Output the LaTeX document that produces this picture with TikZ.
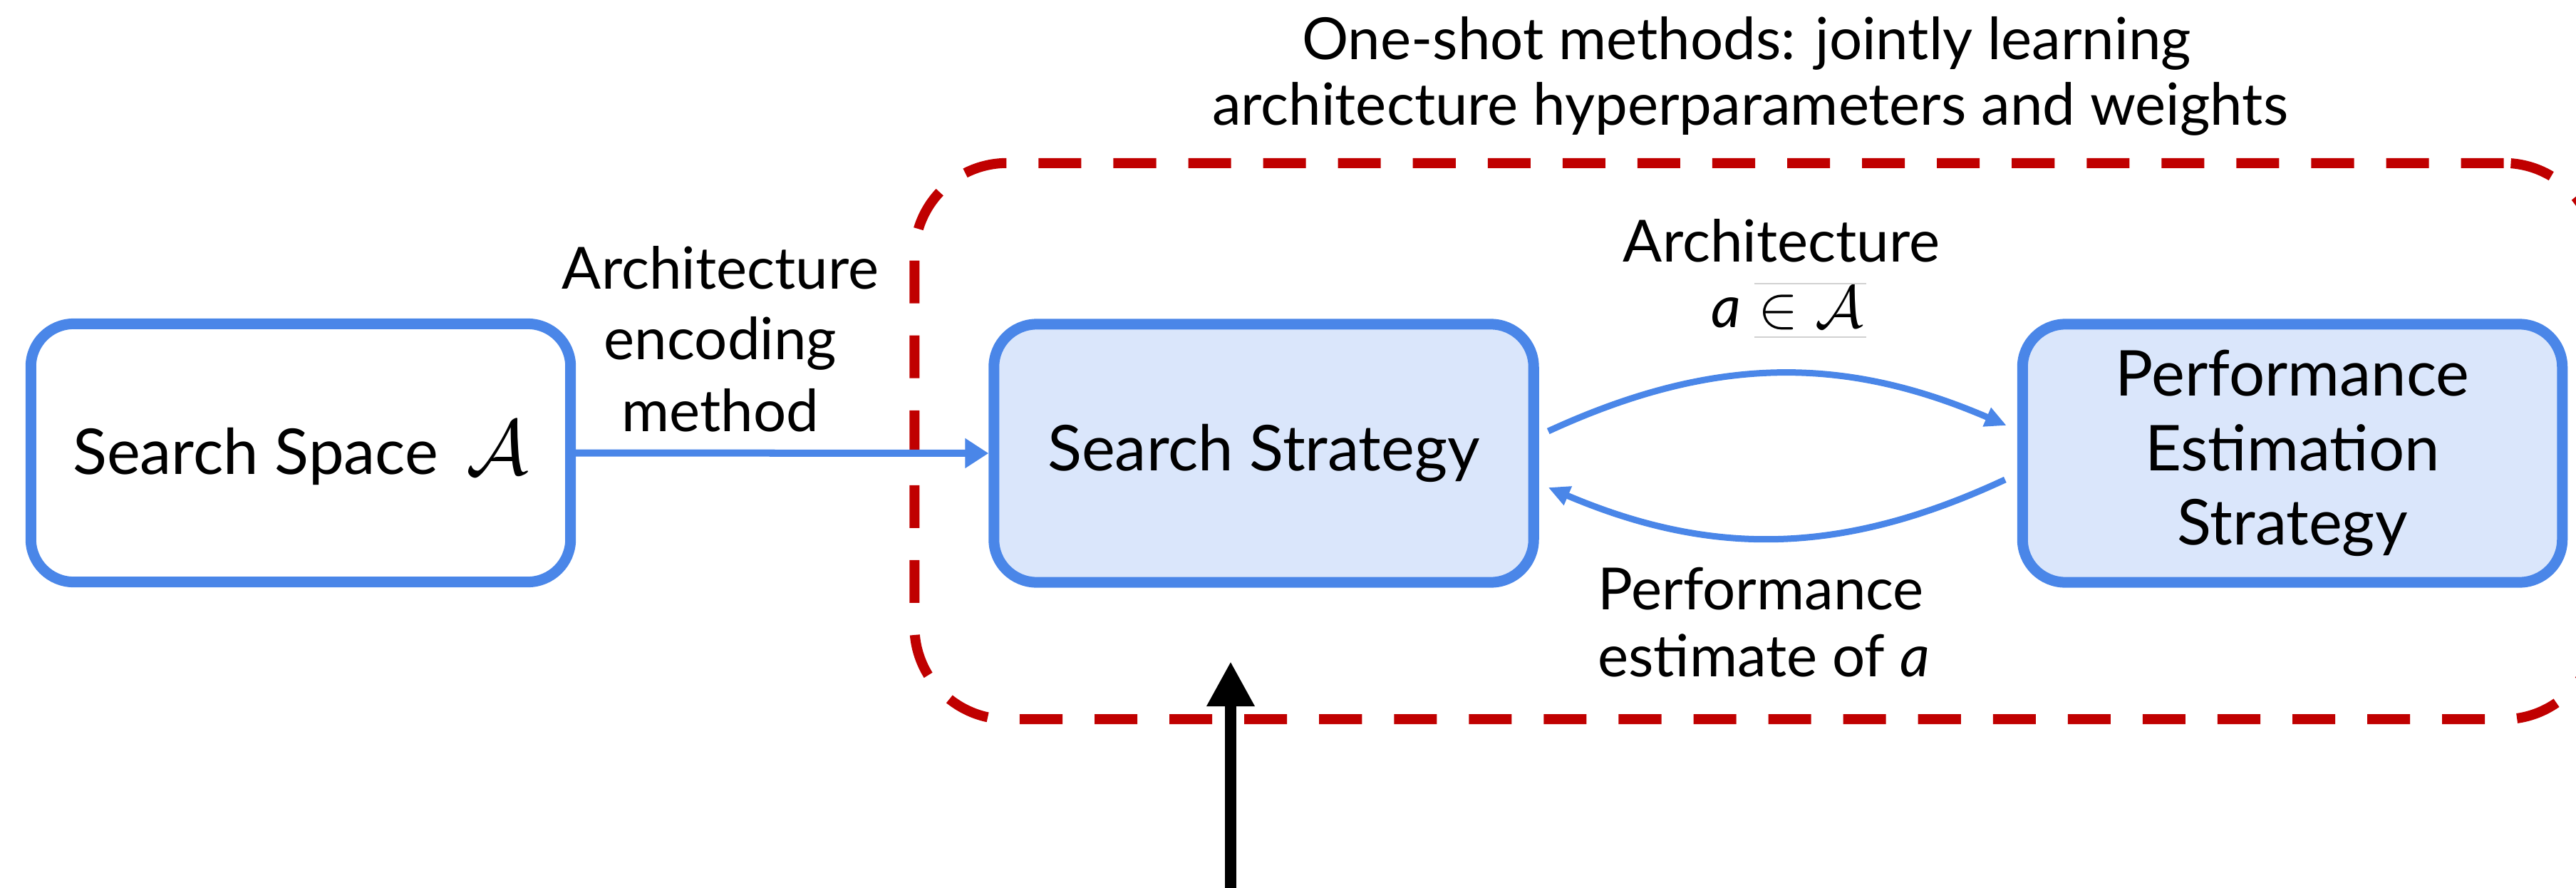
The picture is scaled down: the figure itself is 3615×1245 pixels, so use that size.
\RequirePackage{fix-cm}
\documentclass[tikz,border=0pt]{standalone}
\usepackage{fontspec}
\setmainfont{Lato}
\usetikzlibrary{arrows.meta,calc}
\definecolor{nasblue}{HTML}{4A86E8}
\definecolor{nasfill}{HTML}{DAE6FB}
\definecolor{nasred}{HTML}{C00000}
\begin{document}
\begin{tikzpicture}[x=0.01cm,y=-0.01cm,
  box/.style={draw=nasblue, line width=0.15cm, rounded corners=0.6cm,
    minimum width=7.57cm, minimum height=3.62cm, align=center, inner sep=0pt,
    font=\fontsize{25.2pt}{29.8pt}\selectfont},
  lbl/.style={anchor=base, inner sep=0pt, font=\fontsize{23.2pt}{27pt}\selectfont},
  conn/.style={draw=nasblue, line width=0.1cm, -{Triangle[length=0.33cm,width=0.4cm]}},
  conncurve/.style={draw=nasblue, line width=0.09cm, -{Triangle[length=0.3cm,width=0.27cm]}},
  frame/.style={draw=nasred, line width=0.14cm, dash pattern=on 0.6cm off 0.45cm,
    rounded corners=1.3cm, inner sep=0pt}
]
\useasboundingbox (0,0) rectangle (3615,1245);

% one-shot frame
\node[frame, minimum width=23.59cm, minimum height=7.8cm] (oneshot) at (2463.5,619) {};

% boxes
\node[box] (space) at (422,635.5) {Search Space\hspace{0.45em}{\fontsize{31pt}{31pt}\selectfont$\mathcal{A}$}};
\node[box, fill=nasfill] (strat) at (1773.5,636) {Search Strategy};
\node[box, fill=nasfill] (perf) at (3217,636) {Performance\\Estimation\\Strategy};

% labels
\node[lbl] (t1) at (2451,83) {One-shot methods: jointly learning};
\node[lbl] (t2) at (2456,175) {architecture hyperparameters and weights};
\node[lbl] (e1) at (1011,405) {Architecture};
\node[lbl] (e2) at (1011,504) {encoding};
\node[lbl] (e3) at (1011,605) {method};
\node[lbl] (a1) at (2500,367) {Architecture};
\node[lbl] (a2) at (2508,459) {\textit{a}\hspace{0.3em}{\fontsize{24pt}{24pt}\selectfont$\in\mathcal{A}$}};
\node[lbl] (p1) at (2471,855) {Performance};
\node[lbl] (p2) at (2475,949) {estimate of \textit{a}};
\draw[black!18, line width=0.015cm] (2462,398) -- (2619,398);
\draw[black!18, line width=0.015cm] (2462,473) -- (2619,473);

% connectors
\draw[conn] (space.east) -- (strat.west);
\draw[conncurve] ($(strat.east)+(13,-31)$) to[bend left=24] ($(perf.west)+(-15,-39)$);
\draw[conncurve] ($(perf.west)+(-17,37)$) to[bend left=24] ($(strat.east)+(13,48)$);

% external feed arrow
\coordinate (feed) at (1727,1280);
\coordinate (feedtip) at (1727,928);
\draw[line width=0.16cm, -{Triangle[length=0.63cm,width=0.63cm]}] (feed) -- (feedtip);
\end{tikzpicture}
\end{document}
